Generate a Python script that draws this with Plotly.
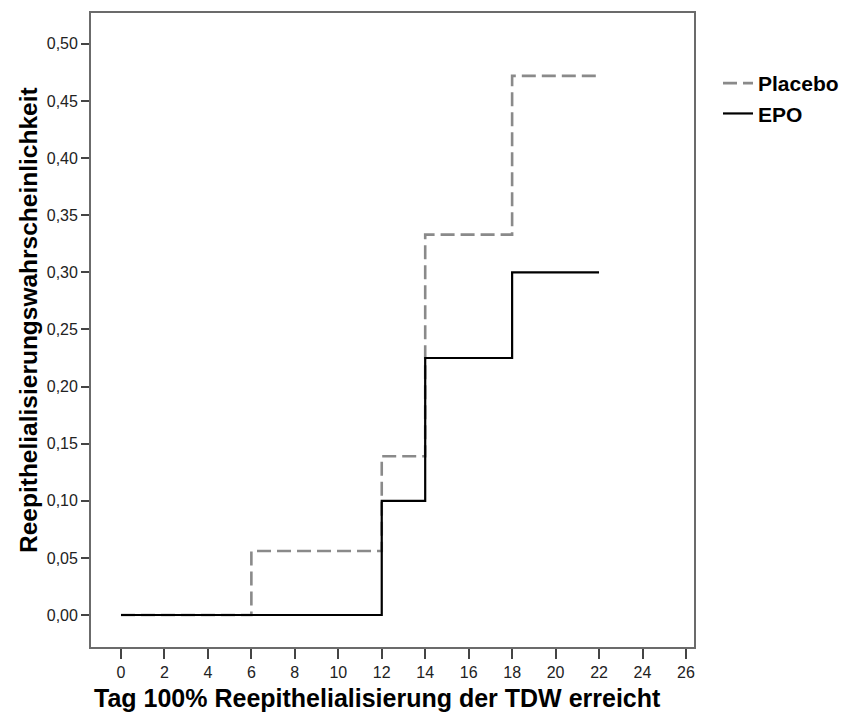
import plotly.graph_objects as go

days_placebo = [0, 6, 12, 14, 18, 22]
prob_placebo = [0.0, 0.056, 0.139, 0.333, 0.472, 0.472]
days_epo = [0, 12, 14, 18, 22]
prob_epo = [0.0, 0.10, 0.225, 0.30, 0.30]

x_ticks = list(range(0, 27, 2))
y_ticks = [0.0, 0.05, 0.10, 0.15, 0.20, 0.25, 0.30, 0.35, 0.40, 0.45, 0.50]

fig = go.Figure()
fig.add_trace(go.Scatter(x=days_placebo, y=prob_placebo, mode="lines", name="Placebo",
                         line=dict(shape="hv", color="#8a8a8a", width=2.6, dash="14px,6px")))
fig.add_trace(go.Scatter(x=days_epo, y=prob_epo, mode="lines", name="EPO",
                         line=dict(shape="hv", color="#000000", width=2.2)))

font = "Liberation Sans, Arial, sans-serif"
fig.update_layout(
    width=851, height=713,
    margin=dict(l=91, r=157, t=13, b=66, autoexpand=False),
    paper_bgcolor="white", plot_bgcolor="white",
    separators=",.",
    font=dict(family=font, color="black", size=16),
    showlegend=True,
    legend=dict(xref="container", yref="container", x=718 / 851, y=1 - 63 / 713,
                xanchor="left", yanchor="top",
                font=dict(family=font, size=21, color="black", weight="bold"),
                itemwidth=30, tracegroupgap=0, bgcolor="rgba(0,0,0,0)"),
    xaxis=dict(range=[-1.38, 26.37], tickvals=x_ticks, tickformat="d",
               showgrid=False, zeroline=False,
               showline=True, mirror=True, linecolor="#6b6b6b", linewidth=1.8,
               ticks="outside", ticklen=10, tickwidth=1.6, tickcolor="#444",
               tickfont=dict(size=16, color="#222")),
    yaxis=dict(range=[-0.028, 0.527], tickvals=y_ticks, tickformat=".2f",
               showgrid=False, zeroline=False,
               showline=True, mirror=True, linecolor="#6b6b6b", linewidth=1.8,
               ticks="outside", ticklen=8, tickwidth=1.6, tickcolor="#444",
               tickfont=dict(size=16, color="#222")),
    annotations=[
        dict(text="Tag 100% Reepithelialisierung der TDW erreicht", xref="paper", yref="paper",
             x=(377 - 91) / 603, y=-(698 - 647) / 634, xanchor="center", yanchor="middle",
             showarrow=False, font=dict(family=font, size=25, color="black", weight="bold")),
        dict(text="Reepithelialisierungswahrscheinlichkeit", xref="paper", yref="paper",
             x=-(91 - 28) / 603, y=(647 - 320) / 634, xanchor="center", yanchor="middle",
             textangle=-90, showarrow=False,
             font=dict(family=font, size=24.5, color="black", weight="bold")),
    ],
)
fig.write_html("out.html")
